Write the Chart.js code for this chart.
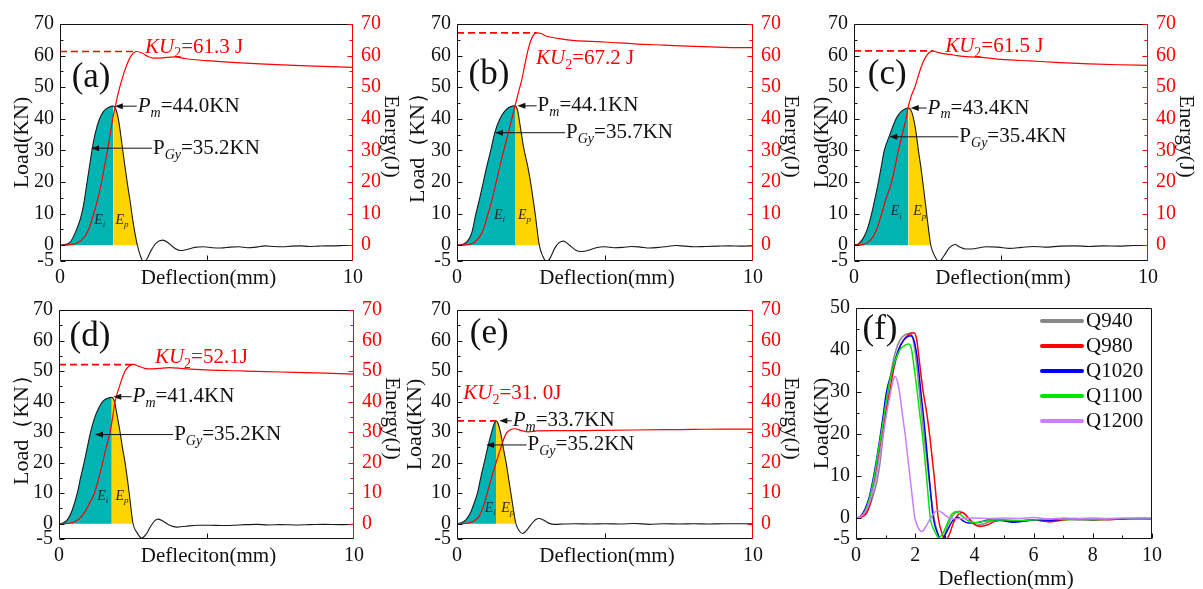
<!DOCTYPE html>
<html>
<head>
<meta charset="utf-8">
<script src="https://cdn.jsdelivr.net/npm/chart.js@4.4.0/dist/chart.umd.min.js"></script>
<style>
body { margin: 0; background: #fff; }
#wrap { position: relative; width: 1203px; height: 589px; overflow: hidden; background: #fff; }
canvas { position: absolute; }
</style>
</head>
<body>
<div id="wrap">
  <canvas id="pa" width="400" height="290" style="left:0px;top:0px"></canvas>
  <canvas id="pb" width="400" height="290" style="left:400px;top:0px"></canvas>
  <canvas id="pc" width="403" height="290" style="left:800px;top:0px"></canvas>
  <canvas id="pd" width="400" height="299" style="left:0px;top:290px"></canvas>
  <canvas id="pe" width="400" height="299" style="left:400px;top:290px"></canvas>
  <canvas id="pf" width="403" height="299" style="left:800px;top:290px"></canvas>
</div>
<script>
// load (kN) and energy (J) against deflection (mm)
var aLoad = [[0,0],[0.2,0.3],[0.35,1],[0.5,3.5],[0.6,5.8],[0.7,8.5],[0.8,12.5],[0.9,18.5],[1.0,24.5],[1.1,30.5],[1.2,35.3],[1.35,40],[1.5,42.5],[1.65,43.6],[1.82,44.0],[1.9,43.2],[2.0,39.5],[2.1,33],[2.2,26],[2.3,19.5],[2.4,13.5],[2.5,7],[2.64,0],[2.75,-3.5],[2.85,-5.3],[2.97,-4.3],[3.1,-1.8],[3.3,0.8],[3.5,1.6],[3.7,0.7],[3.9,-0.9],[4.1,-1.7],[4.35,-1.3],[4.6,-0.7],[4.9,-0.5],[5.2,-0.8],[5.5,-0.9],[5.8,-0.6],[6.1,-0.5],[6.4,-0.8],[6.7,-0.6],[7.0,-0.2],[7.3,-0.4],[7.6,-0.5],[7.9,-0.3],[8.2,-0.2],[8.5,-0.4],[8.8,-0.3],[9.1,-0.2],[9.4,-0.2],[9.7,-0.1],[10,-0.1]];
var aEnergy = [[0,0],[0.3,0.1],[0.6,0.8],[0.8,2.2],[1.0,5.5],[1.15,10],[1.3,15],[1.42,20],[1.52,25],[1.62,30],[1.72,35.5],[1.8,40],[1.9,44.5],[2.04,50],[2.2,55],[2.32,58],[2.43,60],[2.62,61.3],[2.8,60.8],[3.0,59.7],[3.2,59.2],[3.5,59.3],[3.9,59.6],[4.3,59.0],[5,58.4],[6,57.8],[7,57.3],[8,56.9],[9,56.6],[10,56.3]];

var bLoad = [[0,0],[0.2,0.3],[0.35,1.2],[0.5,4],[0.64,10],[0.77,15],[0.89,20],[1.02,25.5],[1.14,30],[1.28,35.7],[1.45,40],[1.62,42.5],[1.8,43.8],[1.96,44.1],[2.05,42.5],[2.13,38],[2.25,31],[2.4,24.5],[2.5,19],[2.64,10],[2.78,0],[2.9,-3.5],[3.03,-5.3],[3.15,-4],[3.3,-1],[3.45,0.8],[3.6,1.3],[3.8,0],[4.0,-1.5],[4.2,-2],[4.45,-1.6],[4.7,-0.8],[5.0,-0.5],[5.3,-0.8],[5.6,-0.7],[5.9,-0.4],[6.2,-0.6],[6.5,-0.9],[6.8,-0.7],[7.1,-0.4],[7.4,-0.1],[7.7,-0.3],[8.0,-0.5],[8.4,-0.4],[8.8,-0.3],[9.2,-0.2],[9.6,-0.3],[10,-0.2]];
var bEnergy = [[0,0],[0.3,0.1],[0.6,1],[0.85,4],[1.05,10],[1.2,15],[1.34,20.6],[1.5,27],[1.65,32.5],[1.8,38],[1.96,44],[2.08,48.5],[2.18,52],[2.3,57.5],[2.42,62.5],[2.55,66],[2.69,67.2],[2.85,67],[3.0,66.2],[3.2,65.8],[3.5,65.3],[3.9,64.8],[4.5,64.5],[5,64.3],[6,63.7],[7,63.3],[8,62.9],[9,62.6],[10,62.5]];

var cLoad = [[0,0],[0.15,0.4],[0.3,2],[0.45,5],[0.6,10],[0.72,15],[0.83,20],[0.93,25],[1.03,30],[1.2,34.5],[1.43,40],[1.6,42.3],[1.75,43.2],[1.85,43.4],[1.95,42.5],[2.05,39],[2.12,35],[2.19,30],[2.27,25],[2.34,20],[2.47,10],[2.55,4],[2.61,0],[2.75,-3.5],[2.89,-5.3],[3.05,-3.5],[3.25,-0.8],[3.44,0.2],[3.6,-0.6],[3.8,-1.2],[4.1,-1.1],[4.5,-0.5],[4.9,-0.6],[5.3,-1.0],[5.7,-0.7],[6.1,-0.4],[6.5,-0.6],[7,-0.3],[7.5,-0.2],[8,-0.4],[8.5,-0.2],[9,-0.3],[9.5,-0.1],[10,-0.1]];
var cEnergy = [[0,0],[0.3,0.2],[0.55,1.5],[0.75,4.5],[0.94,10],[1.1,15],[1.28,20],[1.4,25],[1.51,30],[1.64,35],[1.77,40],[1.85,44],[1.96,47.5],[2.07,50],[2.2,54],[2.33,57.5],[2.47,60],[2.68,61.5],[2.85,61.0],[3.05,60.6],[3.27,60.4],[3.5,60.0],[3.8,59.7],[4.5,59.3],[5,58.8],[6,58.3],[7,57.8],[8,57.4],[9,57.1],[10,56.9]];

var dLoad = [[0,0],[0.15,0.3],[0.3,1.5],[0.45,4.5],[0.62,10],[0.73,15],[0.85,20],[0.96,25],[1.07,30],[1.2,34.5],[1.35,38],[1.5,40.2],[1.65,41.1],[1.79,41.4],[1.88,40],[1.97,35.5],[2.07,30],[2.15,25],[2.24,20],[2.38,10],[2.51,0],[2.65,-3],[2.8,-4.7],[2.95,-3.5],[3.1,-1],[3.25,1],[3.37,1.5],[3.55,0.7],[3.75,-0.5],[3.99,-1.1],[4.3,-0.8],[4.7,-0.5],[5.1,-0.5],[5.5,-0.6],[5.9,-0.5],[6.3,-0.3],[6.7,-0.2],[7.1,-0.4],[7.5,-0.3],[8,-0.4],[8.5,-0.3],[9,-0.2],[9.5,-0.3],[10,-0.2]];
var dEnergy = [[0,0],[0.3,0.1],[0.6,1],[0.85,3.5],[1.05,7],[1.2,10],[1.35,15],[1.48,20],[1.6,25],[1.73,30],[1.82,35],[1.9,40],[2.05,45],[2.24,50],[2.4,51.8],[2.52,52.2],[2.7,51.6],[2.9,50.9],[3.1,50.7],[3.4,50.9],[3.76,51.1],[4.2,50.8],[5,50.4],[6,50.1],[7,49.8],[8,49.6],[9,49.3],[10,49.0]];

var eLoad = [[0,0],[0.15,0.3],[0.3,1.3],[0.45,3.5],[0.57,6.5],[0.69,10],[0.8,15],[0.92,20],[1.05,25.5],[1.17,30],[1.25,32.6],[1.32,33.7],[1.4,32.5],[1.5,28.5],[1.58,24],[1.66,20],[1.74,15],[1.82,10],[1.9,5],[1.99,0],[2.1,-2.3],[2.22,-3.2],[2.35,-2.2],[2.5,-0.3],[2.65,1.3],[2.78,1.7],[2.92,1.2],[3.1,0.2],[3.3,-0.2],[3.6,-0.1],[4,0],[4.5,-0.1],[5,0],[5.5,-0.1],[6,0.1],[6.5,-0.2],[7,0],[7.5,-0.1],[8,0],[8.5,-0.1],[9,0],[9.5,0],[10,0]];
var eEnergy = [[0,0],[0.3,0.1],[0.55,0.8],[0.75,2.5],[0.9,6],[1.02,10],[1.15,14.5],[1.32,20],[1.45,24],[1.57,27.5],[1.66,29.5],[1.8,30.8],[1.96,31.1],[2.15,30.6],[2.41,30.1],[2.7,30.4],[3.2,30.5],[4,30.5],[5,30.6],[6,30.7],[7,30.8],[8,30.9],[9,31.0],[10,31.0]];

// KU2 marker: dashed level, where it stops, and the printed value
var kuLevel = [61.3, 67.2, 61.5, 52.1, 33.7];
var kuEndX = [2.62, 2.69, 2.68, 2.52, 1.32];
var kuText = ['=61.3 J', '=67.2 J', '=61.5 J', '=52.1J', '=31. 0J'];
var pmText = ['=44.0KN', '=44.1KN', '=43.4KN', '=41.4KN', '=33.7KN'];
var pgyText = ['=35.2KN', '=35.7KN', '=35.4KN', '=35.2KN', '=35.2KN'];

// panel (f)
var fNames = ['Q940', 'Q980', 'Q1020', 'Q1100', 'Q1200'];
var fColors = ['#888888', '#ff0000', '#0000ff', '#00e600', '#cc7dff'];

var loadTicks = [-5, 0, 10, 20, 30, 40, 50, 60, 70];
var loadMinor = [5, 15, 25, 35, 45, 55, 65];
var energyTicks = [0, 10, 20, 30, 40, 50, 60, 70];
var xLabelTicks = [0, 10];
var xMarks = [5];
var fLoadTicks = [-5, 0, 10, 20, 30, 40, 50];
var fLoadMinor = [5, 15, 25, 35, 45];
var fXTicks = [0, 2, 4, 6, 8, 10];
var fXMinor = [1, 3, 5, 7, 9];

var FONT = '"Liberation Serif", "Times New Roman", serif';
var TEAL = '#00b4b4';
var GOLD = '#ffd400';

var panels = [
  {id:'pa', load:aLoad, energy:aEnergy, k:0, w:400, h:290, area:[60,353,24,261], lt:38, ltitle:'Load(KN)', xtitle:'Deflection(mm)',
   label:'(a)', labelAt:[1.06,52.9], pmItalic:true, pm:[1.87,2.62,44.0], pgy:[1.06,3.14,30.7], kuAt:[2.9,62.7], ei:[1.37,8], ep:[2.1,8]},
  {id:'pb', load:bLoad, energy:bEnergy, k:1, w:400, h:290, area:[57,353,24,261], lt:39, ltitle:'Load\uff08KN\uff09', xtitle:'Deflection(mm)',
   label:'(b)', labelAt:[1.08,53.9], pmItalic:false, pm:[2.04,2.69,44.1], pgy:[1.28,3.65,35.6], kuAt:[2.67,59.1], ei:[1.45,9.6], ep:[2.26,9.6]},
  {id:'pc', load:cLoad, energy:cEnergy, k:2, w:403, h:290, area:[54,348,24,261], lt:32, ltitle:'Load(KN)', xtitle:'Deflection(mm)',
   label:'(c)', labelAt:[1.13,53.9], pmItalic:true, pm:[1.93,2.47,43.4], pgy:[1.2,3.55,34.3], kuAt:[3.1,62.8], ei:[1.45,10.6], ep:[2.22,10.6]},
  {id:'pd', load:dLoad, energy:dEnergy, k:3, w:400, h:299, area:[59,354,12,249], lt:37, ltitle:'Load\uff08KN\uff09', xtitle:'Defleciton(mm)',
   label:'(d)', labelAt:[1.05,61.1], pmItalic:true, pm:[1.84,2.46,41.6], pgy:[1.22,3.87,29.2], kuAt:[3.25,54.5], ei:[1.5,8.9], ep:[2.12,8.9]},
  {id:'pe', load:eLoad, energy:eEnergy, k:4, w:400, h:299, area:[57,353,12,249], lt:42, ltitle:'Load(KN)', xtitle:'Deflection(mm)',
   label:'(e)', labelAt:[1.09,62.2], pmItalic:true, pm:[1.43,1.85,33.7], pgy:[0.98,2.35,25.8], kuAt:[0.21,42.7], ei:[1.14,5.2], ep:[1.7,5.2]}
];

function xy(arr) {
  return arr.map(function (p) { return {x: p[0], y: p[1]}; });
}

function drawRich(ctx, x, y, parts, size, color) {
  ctx.fillStyle = color;
  ctx.textBaseline = 'middle';
  ctx.textAlign = 'left';
  parts.forEach(function (pt) {
    var st = pt[1] || '';
    var sub = st.indexOf('s') >= 0, it = st.indexOf('i') >= 0;
    var fs = sub ? Math.round(size * 0.65) : size;
    ctx.font = (it ? 'italic ' : '') + fs + 'px ' + FONT;
    ctx.fillText(pt[0], x, y + (sub ? size * 0.32 : 0));
    x += ctx.measureText(pt[0]).width;
  });
}

function arrowLeft(ctx, x1, y, x2) {
  ctx.strokeStyle = '#111';
  ctx.fillStyle = '#111';
  ctx.lineWidth = 1;
  ctx.beginPath(); ctx.moveTo(x1, y); ctx.lineTo(x2 + 5, y); ctx.stroke();
  ctx.beginPath(); ctx.moveTo(x2, y); ctx.lineTo(x2 + 8, y - 3); ctx.lineTo(x2 + 8, y + 3); ctx.closePath(); ctx.fill();
}

function rotText(ctx, text, x, y, angle, size, color) {
  ctx.save();
  ctx.translate(x, y);
  ctx.rotate(angle);
  ctx.font = size + 'px ' + FONT;
  ctx.fillStyle = color;
  ctx.textAlign = 'center';
  ctx.textBaseline = 'middle';
  ctx.fillText(text, 0, 0);
  ctx.restore();
}

var decor = {};

var decorPlugin = {
  id: 'decor',
  afterDraw: function (chart) {
    var p = decor[chart.canvas.id];
    var ctx = chart.ctx, a = chart.chartArea;
    var xs = chart.scales.x, ys = chart.scales.y;
    var L = Math.round(a.left) + 0.5, R = Math.round(a.right) - 0.5;
    var T = Math.round(a.top) + 0.5, B = Math.round(a.bottom) - 0.5;
    ctx.save();
    ctx.lineWidth = 1;

    // frame
    ctx.strokeStyle = '#111';
    ctx.beginPath();
    ctx.moveTo(R, T); ctx.lineTo(L, T); ctx.lineTo(L, B); ctx.lineTo(R, B);
    if (p.f) ctx.lineTo(R, T);
    ctx.stroke();

    // inward tick marks
    var majors = p.f ? fLoadTicks : loadTicks, minors = p.f ? fLoadMinor : loadMinor;
    ctx.beginPath();
    majors.forEach(function (v) { var py = Math.round(ys.getPixelForValue(v)) + 0.5; ctx.moveTo(L, py); ctx.lineTo(L + 5, py); });
    minors.forEach(function (v) { var py = Math.round(ys.getPixelForValue(v)) + 0.5; ctx.moveTo(L, py); ctx.lineTo(L + 3, py); });
    (p.f ? fXTicks : xMarks).forEach(function (v) { var px = Math.round(xs.getPixelForValue(v)) + 0.5; ctx.moveTo(px, B); ctx.lineTo(px, B - 5); });
    if (p.f) fXMinor.forEach(function (v) { var px = Math.round(xs.getPixelForValue(v)) + 0.5; ctx.moveTo(px, B); ctx.lineTo(px, B - 3); });
    ctx.stroke();

    if (!p.f) {
      var y2 = chart.scales.y2;
      ctx.strokeStyle = '#ff0000';
      ctx.beginPath();
      ctx.moveTo(R, T - 0.5); ctx.lineTo(R, B + 0.5);
      energyTicks.forEach(function (v) { var py = Math.round(y2.getPixelForValue(v)) + 0.5; ctx.moveTo(R, py); ctx.lineTo(R - 5, py); });
      loadMinor.forEach(function (v) { var py = Math.round(y2.getPixelForValue(v)) + 0.5; ctx.moveTo(R, py); ctx.lineTo(R - 3, py); });
      ctx.stroke();
    }

    // axis titles
    var cy = (a.top + a.bottom) / 2, cx = (a.left + a.right) / 2;
    rotText(ctx, p.ltitle, a.left - p.lt, cy, -Math.PI / 2, 22, '#111');
    if (!p.f) rotText(ctx, 'Energy(J)', a.right + 38, cy - 6, Math.PI / 2, 21, '#111');
    ctx.font = '21px ' + FONT;
    ctx.fillStyle = '#111';
    ctx.textAlign = 'center';
    ctx.textBaseline = 'middle';
    ctx.fillText(p.xtitle, cx + 2, p.f ? a.bottom + 40 : a.bottom + 17);

    // panel letter
    ctx.font = '35px ' + FONT;
    ctx.fillText(p.label, xs.getPixelForValue(p.labelAt[0]), ys.getPixelForValue(p.labelAt[1]));

    if (p.f) {
      // legend
      fNames.forEach(function (n, i) {
        var ly = a.top + 13 + i * 25;
        ctx.strokeStyle = fColors[i];
        ctx.lineWidth = 4;
        ctx.lineCap = 'round';
        ctx.beginPath(); ctx.moveTo(a.right - 110, ly); ctx.lineTo(a.right - 70, ly); ctx.stroke();
        drawRich(ctx, a.right - 66, ly, [[n, '']], 21, '#111');
      });
    } else {
      var k = p.k;
      // Pm arrow and text
      var py = ys.getPixelForValue(p.pm[2]);
      arrowLeft(ctx, xs.getPixelForValue(p.pm[1]), py, xs.getPixelForValue(p.pm[0]));
      drawRich(ctx, xs.getPixelForValue(p.pm[1]) + 1, py, [['P', p.pmItalic ? 'i' : ''], ['m', 'si'], [pmText[k], '']], 21, '#111');
      // PGy arrow and text
      py = ys.getPixelForValue(p.pgy[2]);
      arrowLeft(ctx, xs.getPixelForValue(p.pgy[1]), py, xs.getPixelForValue(p.pgy[0]));
      drawRich(ctx, xs.getPixelForValue(p.pgy[1]) + 1, py, [['P', ''], ['Gy', 'si'], [pgyText[k], '']], 21, '#111');
      // KU2
      drawRich(ctx, xs.getPixelForValue(p.kuAt[0]), ys.getPixelForValue(p.kuAt[1]), [['KU', 'i'], ['2', 's'], [kuText[k], '']], 21, '#ff0000');
      // energy split labels
      drawRich(ctx, xs.getPixelForValue(p.ei[0]) - 6, ys.getPixelForValue(p.ei[1]), [['E', 'i'], ['i', 'si']], 14, '#1a2a2a');
      drawRich(ctx, xs.getPixelForValue(p.ep[0]) - 6, ys.getPixelForValue(p.ep[1]), [['E', 'i'], ['p', 'si']], 14, '#2a2a1a');
    }
    ctx.restore();
  }
};

function tickFont() { return {family: FONT, size: 20}; }

function makeX(p, ticks) {
  return {
    type: 'linear', min: 0, max: 10,
    afterBuildTicks: function (s) { s.ticks = ticks.map(function (v) { return {value: v}; }); },
    ticks: {font: tickFont(), color: '#111', padding: 5, maxRotation: 0, autoSkip: false},
    grid: {display: false, drawTicks: false},
    border: {display: false},
    afterFit: function (s) { s.height = p.h - p.area[3]; }
  };
}

function makeY(p, min, max, ticks, pos, color, width) {
  return {
    type: 'linear', position: pos, min: min, max: max,
    afterBuildTicks: function (s) { s.ticks = ticks.map(function (v) { return {value: v}; }); },
    ticks: {font: tickFont(), color: color, padding: pos === 'left' ? 6 : 8, autoSkip: false},
    grid: {display: false, drawTicks: false},
    border: {display: false},
    afterFit: function (s) { s.width = width; }
  };
}

panels.forEach(function (p) {
  decor[p.id] = p;
  var peakIdx = 0;
  p.load.forEach(function (pt, i) { if (pt[1] > p.load[peakIdx][1]) peakIdx = i; });
  var zeroIdx = peakIdx;
  while (zeroIdx < p.load.length - 1 && p.load[zeroIdx][1] > 0) zeroIdx++;

  new Chart(document.getElementById(p.id), {
    type: 'line',
    data: {
      datasets: [
        {data: [{x: 0, y: kuLevel[p.k]}, {x: kuEndX[p.k], y: kuLevel[p.k]}], yAxisID: 'y2',
         borderColor: '#ff0000', borderWidth: 1.6, borderDash: [7, 4], pointRadius: 0},
        {data: xy(p.energy), yAxisID: 'y2', borderColor: '#ff0000', borderWidth: 1.2,
         pointRadius: 0, cubicInterpolationMode: 'monotone'},
        {data: xy(p.load), yAxisID: 'y', borderColor: '#1a1a1a', borderWidth: 1.1,
         pointRadius: 0, cubicInterpolationMode: 'monotone',
         fill: 'origin', backgroundColor: 'rgba(0,0,0,0)',
         segment: {
           backgroundColor: function (c) {
             if (c.p0DataIndex < peakIdx) return TEAL;
             if (c.p0DataIndex < zeroIdx) return GOLD;
             return 'rgba(0,0,0,0)';
           }
         }}
      ]
    },
    options: {
      responsive: false, animation: false,
      layout: {padding: {top: p.area[2], left: 0, right: 0, bottom: 0}, autoPadding: false},
      plugins: {legend: {display: false}, tooltip: {enabled: false}},
      scales: {
        x: makeX(p, xLabelTicks),
        y: makeY(p, -5, 70, loadTicks, 'left', '#111', p.area[0]),
        y2: makeY(p, -5, 70, energyTicks, 'right', '#ff0000', p.w - p.area[1])
      }
    },
    plugins: [decorPlugin]
  });
});

// panel (f): the five load curves together
var fp = {id: 'pf', f: true, w: 403, h: 299, area: [56, 352, 12, 249], lt: 34, ltitle: 'Load(KN)', xtitle: 'Deflection(mm)',
          label: '(f)', labelAt: [0.81, 44.7]};
decor.pf = fp;
var fSeries = [aLoad, bLoad, cLoad, dLoad, eLoad];

new Chart(document.getElementById('pf'), {
  type: 'line',
  data: {
    datasets: fSeries.map(function (s, i) {
      return {label: fNames[i], data: xy(s), borderColor: fColors[i], borderWidth: 1.5,
              pointRadius: 0, cubicInterpolationMode: 'monotone', order: 5 - i};
    })
  },
  options: {
    responsive: false, animation: false,
    layout: {padding: {top: fp.area[2], left: 0, right: fp.w - fp.area[1], bottom: 0}, autoPadding: false},
    plugins: {legend: {display: false}, tooltip: {enabled: false}},
    scales: {
      x: makeX(fp, fXTicks),
      y: makeY(fp, -5, 50, fLoadTicks, 'left', '#111', fp.area[0])
    }
  },
  plugins: [decorPlugin]
});
</script>
</body>
</html>
